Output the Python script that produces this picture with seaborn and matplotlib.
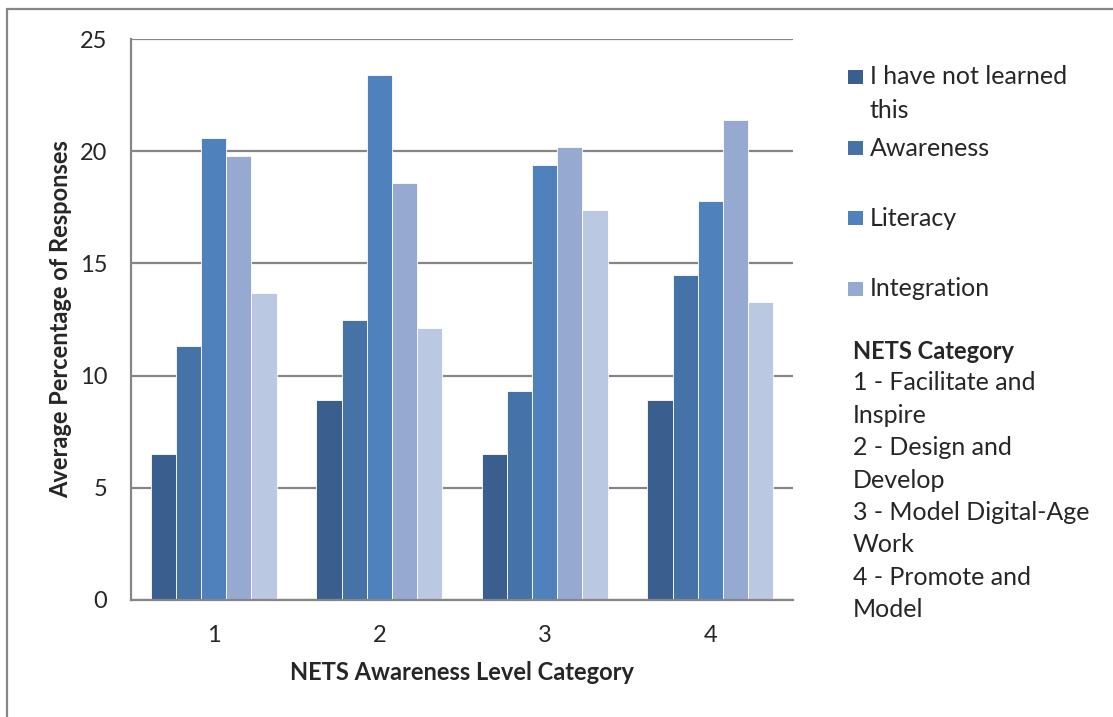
import pandas as pd
import matplotlib.pyplot as plt
import seaborn as sns
from matplotlib.patches import Rectangle

# values
categories = ['1', '2', '3', '4']
series = ['I have not learned this', 'Awareness', 'Literacy', 'Integration', 'Innovation']
not_learned = [6.5, 8.9, 6.5, 8.9]
awareness = [11.3, 12.5, 9.3, 14.5]
literacy = [20.6, 23.4, 19.4, 17.8]
integration = [19.8, 18.6, 20.2, 21.4]
innovation = [13.7, 12.1, 17.4, 13.3]
colors = ['#3A5F8E', '#4572A7', '#4F81BD', '#95A9D1', '#BBC8E1']
legend_labels = ['I have not learned', 'Awareness', 'Literacy', 'Integration']
nets_lines = ['1 - Facilitate and', 'Inspire', '2 - Design and', 'Develop',
              '3 - Model Digital-Age', 'Work', '4 - Promote and', 'Model']

df = pd.DataFrame({
    'category': categories * 5,
    'level': sum([[s] * 4 for s in series], []),
    'value': not_learned + awareness + literacy + integration + innovation,
})

sns.set_style('white')
plt.rcParams['font.family'] = ['Lato', 'DejaVu Sans']

fig = plt.figure(figsize=(11.13, 7.17), dpi=100)
ax = fig.add_axes([131 / 1113, 117 / 717, 662 / 1113, 561 / 717])

sns.barplot(data=df, x='category', y='value', hue='level', hue_order=series,
            order=categories, palette=colors, width=0.76, saturation=1,
            edgecolor='white', linewidth=0.6, legend=False, ax=ax)

gray = '#868686'
ax.set_ylim(0, 25)
ax.set_xlim(-0.5, 3.5)
ax.set_yticks([0, 5, 10, 15, 20, 25])
ax.yaxis.grid(True, color=gray, linewidth=1.6)
ax.set_axisbelow(True)
for side in ['top', 'right']:
    ax.spines[side].set_visible(False)
for side in ['left', 'bottom']:
    ax.spines[side].set_color(gray)
    ax.spines[side].set_linewidth(1.6)

ax.set_xticks([-0.5, 0.5, 1.5, 2.5, 3.5], minor=True)
ax.tick_params(axis='x', which='major', length=0, pad=18, labelsize=17)
ax.tick_params(axis='x', which='minor', length=5, width=1.6, color=gray, direction='out')
ax.tick_params(axis='y', length=5, width=1.6, color=gray, direction='out', pad=12, labelsize=17)
ax.set_xlabel('NETS Awareness Level Category', fontsize=17, fontweight='bold', va='center')
ax.set_ylabel('Average Percentage of Responses', fontsize=17, fontweight='bold', va='center')
ax.xaxis.set_label_coords(0.5, (600 - 673) / 561)
ax.yaxis.set_label_coords((61 - 131) / 662, 0.5)

# outer chart border
fig.patches.append(Rectangle((7 / 1113, -0.1), 1.2, 0.1 + (717 - 9) / 717,
                             transform=fig.transFigure, fill=False,
                             edgecolor=gray, linewidth=1.6))

# legend (first four series) and category notes
ys = [77, 148, 218, 289]
for lab, col, y in zip(legend_labels, colors, ys):
    fig.patches.append(Rectangle((848 / 1113, 1 - (y + 7) / 717), 15 / 1113, 14 / 717,
                                 transform=fig.transFigure, facecolor=col, edgecolor='none'))
    fig.text(870 / 1113, 1 - y / 717, lab, fontsize=18, va='center')
fig.text(870 / 1113, 1 - 110 / 717, 'this', fontsize=18, va='center')

fig.text(853 / 1113, 1 - 352 / 717, 'NETS Category', fontsize=17, fontweight='bold', va='center')
for i, line in enumerate(nets_lines):
    fig.text(853 / 1113, 1 - (383 + i * 32.4) / 717, line, fontsize=18, va='center')

fig.savefig('out.png', dpi=100)
